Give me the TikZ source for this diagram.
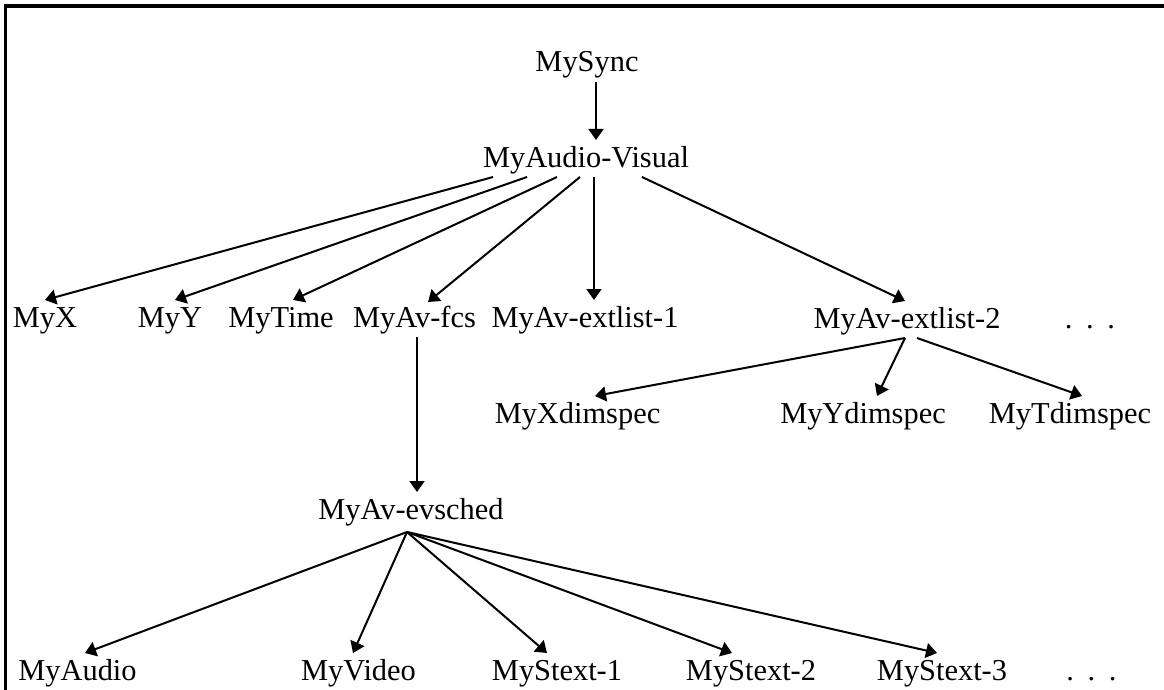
\documentclass[tikz,border=0pt]{standalone}
\usepackage{fontspec}
\setmainfont{Liberation Serif}
\usetikzlibrary{arrows.meta}

\begin{document}
\begin{tikzpicture}[x=1pt, y=-1pt,
  lbl/.style={anchor=base, inner sep=0pt, outer sep=0pt,
              text height=27pt, text depth=10pt,
              font=\fontsize{30.4}{36}\selectfont},
  link/.style={line width=2pt, -{Triangle[length=11pt, width=15pt]}},
  frameline/.style={line width=3.5pt, line cap=rect}]

\useasboundingbox (0,0) rectangle (1164,690);

% outer frame (left and top edges)
\draw[frameline] (5.5,692) -- (5.5,6) -- (1166,6);

% top levels
\node[lbl] (sync) at (587,72)  {MySync};
\node[lbl] (av)   at (586,167) {MyAudio-Visual};

% second level
\node[lbl] (mx)    at (45,327)    {MyX};
\node[lbl] (my)    at (170,327)   {MyY};
\node[lbl] (mt)    at (281,327)   {MyTime};
\node[lbl] (fcs)   at (414.5,327) {MyAv-fcs};
\node[lbl] (ext1)  at (585,327)   {MyAv-extlist-1};
\node[lbl] (ext2)  at (907,328)   {MyAv-extlist-2};
\node[lbl] (dotsA) at (1090,328)  {.\hspace{0.45em}.\hspace{0.45em}.};

% extlist-2 children
\node[lbl] (xd) at (577.5,423) {MyXdimspec};
\node[lbl] (yd) at (863,423)   {MyYdimspec};
\node[lbl] (td) at (1070,423)  {MyTdimspec};

% event schedule
\node[lbl] (ev) at (411,519) {MyAv-evsched};

% bottom row
\node[lbl] (aud)   at (77.5,680)  {MyAudio};
\node[lbl] (vid)   at (358.5,680) {MyVideo};
\node[lbl] (st1)   at (557,680)   {MyStext-1};
\node[lbl] (st2)   at (751,680)   {MyStext-2};
\node[lbl] (st3)   at (942,680)   {MyStext-3};
\node[lbl] (dotsB) at (1091.5,680) {.\hspace{0.45em}.\hspace{0.45em}.};

% connectors
\draw[link] ([xshift=9pt]sync.south)  -- ([xshift=10pt]av.north);

\draw[link] ([xshift=-93pt]av.south) -- (mx.north);
\draw[link] ([xshift=-59pt]av.south) -- ([xshift=5pt]my.north);
\draw[link] ([xshift=-29pt]av.south) -- ([xshift=12pt]mt.north);
\draw[link] ([xshift=-6pt]av.south)  -- ([xshift=13.5pt,yshift=-2pt]fcs.north);
\draw[link] ([xshift=8pt]av.south)   -- ([xshift=9pt]ext1.north);
\draw[link] ([xshift=56pt]av.south)  -- ([xshift=-2pt]ext2.north);

\draw[link] ([xshift=-2pt]ext2.south) -- ([xshift=17.5pt]xd.north);
\draw[link] ([xshift=-2pt]ext2.south) -- ([xshift=14pt]yd.north);
\draw[link] ([xshift=10pt]ext2.south) -- ([xshift=12pt]td.north);

\draw[link] ([xshift=2.5pt]fcs.south) -- ([xshift=6pt]ev.north);

\draw[link] ([xshift=-4pt,yshift=-3pt]ev.south) -- ([xshift=7.5pt]aud.north);
\draw[link] ([xshift=-4pt,yshift=-3pt]ev.south) -- ([xshift=-5.5pt]vid.north);
\draw[link] ([xshift=-4pt,yshift=-3pt]ev.south) -- ([xshift=-10pt]st1.north);
\draw[link] ([xshift=-4pt,yshift=-3pt]ev.south) -- ([xshift=-19pt]st2.north);
\draw[link] ([xshift=-4pt,yshift=-3pt]ev.south) -- ([xshift=-5pt]st3.north);

\end{tikzpicture}
\end{document}
